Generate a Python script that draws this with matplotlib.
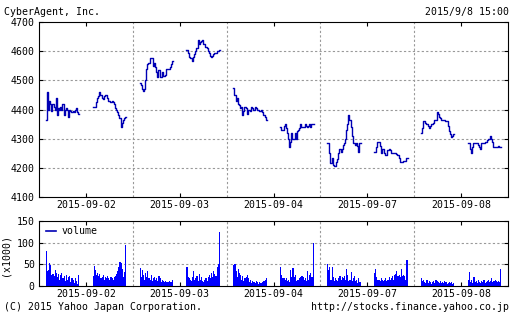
import matplotlib
matplotlib.use("Agg")
import matplotlib.pyplot as plt
import numpy as np

# trading days shown on the chart
days = ["2015-09-02", "2015-09-03", "2015-09-04", "2015-09-07", "2015-09-08"]

# 5-minute prices, morning (9:00-11:30) and afternoon (12:30-15:00) sessions
price_am = [
    [4365, 4460, 4400, 4430, 4420, 4395, 4420, 4410, 4400, 4440, 4380, 4405, 4400, 4410, 4400,
     4420, 4380, 4400, 4405, 4400, 4375, 4400, 4395, 4390, 4395, 4390, 4400, 4405, 4390, 4385],
    [4490, 4485, 4470, 4465, 4470, 4500, 4540, 4555, 4560, 4575, 4575, 4575, 4550, 4560, 4545,
     4530, 4510, 4535, 4510, 4510, 4530, 4515, 4515, 4520, 4540, 4540, 4540, 4545, 4555, 4565],
    [4475, 4450, 4430, 4440, 4420, 4415, 4405, 4410, 4380, 4395, 4410, 4405, 4385, 4400, 4400,
     4395, 4410, 4405, 4400, 4410, 4405, 4400, 4400, 4395, 4395, 4400, 4390, 4380, 4375, 4365],
    [4285, 4285, 4250, 4215, 4235, 4210, 4205, 4205, 4220, 4230, 4250, 4265, 4255, 4265, 4280,
     4285, 4300, 4330, 4350, 4380, 4365, 4340, 4310, 4285, 4285, 4280, 4285, 4275, 4255, 4285],
    [4320, 4335, 4360, 4360, 4355, 4350, 4345, 4335, 4345, 4350, 4350, 4355, 4365, 4365, 4390,
     4385, 4375, 4370, 4365, 4365, 4365, 4365, 4362, 4360, 4345, 4325, 4315, 4305, 4310, 4315],
]
price_pm = [
    [4410, 4410, 4410, 4425, 4440, 4445, 4460, 4450, 4440, 4435, 4445, 4450, 4450, 4440, 4430,
     4430, 4425, 4428, 4425, 4420, 4405, 4400, 4390, 4380, 4370, 4340, 4355, 4365, 4370, 4375],
    [4605, 4595, 4580, 4575, 4575, 4565, 4580, 4590, 4600, 4610, 4640, 4625, 4630, 4635, 4640,
     4625, 4625, 4615, 4610, 4600, 4595, 4585, 4580, 4585, 4590, 4595, 4595, 4600, 4600, 4605],
    [4340, 4330, 4330, 4345, 4350, 4335, 4320, 4300, 4270, 4290, 4320, 4300, 4300, 4320, 4300,
     4325, 4330, 4335, 4350, 4340, 4340, 4340, 4350, 4345, 4340, 4345, 4350, 4340, 4350, 4350],
    [4255, 4255, 4270, 4290, 4290, 4275, 4250, 4265, 4265, 4250, 4245, 4245, 4260, 4265, 4260,
     4250, 4250, 4250, 4250, 4250, 4248, 4245, 4235, 4220, 4220, 4220, 4225, 4225, 4225, 4235],
    [4285, 4285, 4265, 4250, 4270, 4285, 4285, 4285, 4285, 4280, 4270, 4265, 4285, 4285, 4285,
     4290, 4290, 4295, 4300, 4300, 4310, 4300, 4290, 4270, 4270, 4270, 4270, 4275, 4270, 4270],
]

# 5-minute volume (x1000)
volume_am = [
    [80, 35, 38, 52, 48, 25, 28, 22, 38, 30, 20, 28, 15, 25, 30,
     18, 22, 12, 25, 15, 20, 22, 10, 18, 15, 8, 18, 12, 5, 25],
    [42, 20, 38, 25, 15, 30, 20, 35, 18, 15, 25, 12, 18, 20, 15,
     18, 12, 22, 18, 10, 15, 12, 10, 12, 10, 10, 12, 10, 10, 15],
    [48, 50, 35, 20, 40, 30, 25, 15, 22, 12, 18, 20, 25, 18, 10,
     15, 8, 12, 10, 8, 12, 10, 5, 10, 8, 6, 10, 12, 15, 18],
    [50, 38, 45, 15, 45, 20, 12, 18, 15, 12, 18, 22, 15, 20, 18,
     22, 15, 40, 25, 12, 15, 32, 12, 18, 22, 12, 15, 8, 18, 10],
    [18, 12, 15, 10, 8, 15, 8, 12, 10, 5, 10, 12, 8, 15, 12,
     10, 8, 12, 8, 10, 8, 12, 10, 5, 8, 10, 6, 10, 5, 8],
]
volume_pm = [
    [22, 47, 38, 25, 30, 22, 28, 18, 20, 25, 15, 20, 18, 22, 18,
     15, 20, 18, 15, 20, 22, 28, 35, 45, 55, 52, 40, 20, 32, 95],
    [45, 20, 18, 15, 12, 20, 35, 15, 18, 22, 12, 28, 15, 20, 12,
     10, 15, 18, 12, 20, 25, 18, 30, 20, 35, 28, 22, 45, 50, 125],
    [45, 25, 18, 18, 15, 18, 12, 15, 10, 38, 20, 42, 20, 25, 12,
     15, 15, 18, 20, 22, 20, 15, 18, 12, 35, 15, 25, 30, 20, 100],
    [30, 40, 20, 15, 15, 12, 18, 15, 12, 15, 18, 12, 15, 20, 15,
     18, 22, 15, 25, 28, 35, 22, 25, 20, 40, 22, 25, 22, 15, 60],
    [15, 32, 10, 15, 8, 20, 10, 12, 8, 15, 10, 8, 12, 10, 15,
     8, 10, 12, 15, 10, 12, 18, 10, 12, 15, 12, 10, 12, 10, 40],
]

FONT = "DejaVu Sans Mono"
FS = 7.1
LINE_COL = "#0000b4"
BAR_COL = "#0000ff"
GRID = dict(color="#999999", linestyle=(0, (2, 2)), linewidth=0.8)

# each day spans 8:30-15:30 (7 h); am starts 0.5 h in, pm starts 4 h in
DAY_LEN = 7.0
AM_OFF, PM_OFF = 0.5, 4.0
STEP = 5 / 60

plt.rcParams["font.family"] = FONT
plt.rcParams["font.size"] = FS

fig = plt.figure(figsize=(5.16, 3.16), dpi=100)
ax = fig.add_axes([39 / 516, 1 - 197 / 316, 469 / 516, 175 / 316])
axv = fig.add_axes([39 / 516, 1 - 286 / 316, 469 / 516, 65 / 316])

for d in range(len(days)):
    for vals, off in ((price_am[d], AM_OFF), (price_pm[d], PM_OFF)):
        x = d * DAY_LEN + off + np.arange(len(vals)) * STEP
        xs = np.append(x, x[-1] + STEP)
        ys = np.append(vals, vals[-1])
        ax.plot(xs, ys, drawstyle="steps-post", color=LINE_COL, lw=1.0)
    for vals, off in ((volume_am[d], AM_OFF), (volume_pm[d], PM_OFF)):
        x = d * DAY_LEN + off + np.arange(len(vals)) * STEP
        axv.bar(x, vals, width=STEP, align="edge", color=BAR_COL, linewidth=0,
                antialiased=False)

centers = [d * DAY_LEN + DAY_LEN / 2 for d in range(len(days))]
bounds = [d * DAY_LEN for d in range(1, len(days))]

for a in (ax, axv):
    a.set_xlim(0, DAY_LEN * len(days))
    a.set_xticks(centers)
    a.set_xticklabels(days)
    for b in bounds:
        a.axvline(b, **GRID, zorder=0)
    a.tick_params(direction="in", length=3, width=0.8, top=True, right=True,
                  labelsize=FS, pad=3)
    a.tick_params(axis="x", pad=2.5)
    for s in a.spines.values():
        s.set_linewidth(0.8)

ax.set_ylim(4100, 4700)
ax.set_yticks(np.arange(4100, 4701, 100))
for yv in range(4200, 4700, 100):
    ax.axhline(yv, **GRID, zorder=0)

axv.set_ylim(0, 150)
axv.set_yticks([0, 50, 100, 150])
for yv in (50, 100):
    axv.axhline(yv, **GRID, zorder=0)

handle = plt.Line2D([], [], color=LINE_COL, lw=1.2)
axv.legend([handle], ["volume"], loc="center left", bbox_to_anchor=(0.015, 0.84),
           frameon=False, handlelength=1.0, handletextpad=0.6, borderpad=0,
           borderaxespad=0, prop={"family": FONT, "size": FS})

fig.text(5 / 516, 1 - 255 / 316, "(x1000)", rotation=90, ha="center", va="center")
fig.text(4 / 516, 1 - 12 / 316, "CyberAgent, Inc.", ha="left", va="center")
fig.text(509 / 516, 1 - 12 / 316, "2015/9/8 15:00", ha="right", va="center")
fig.text(4 / 516, 1 - 307 / 316, "(C) 2015 Yahoo Japan Corporation.", ha="left", va="center")
fig.text(509 / 516, 1 - 307 / 316, "http://stocks.finance.yahoo.co.jp", ha="right", va="center")

fig.savefig("out.png", dpi=100)
